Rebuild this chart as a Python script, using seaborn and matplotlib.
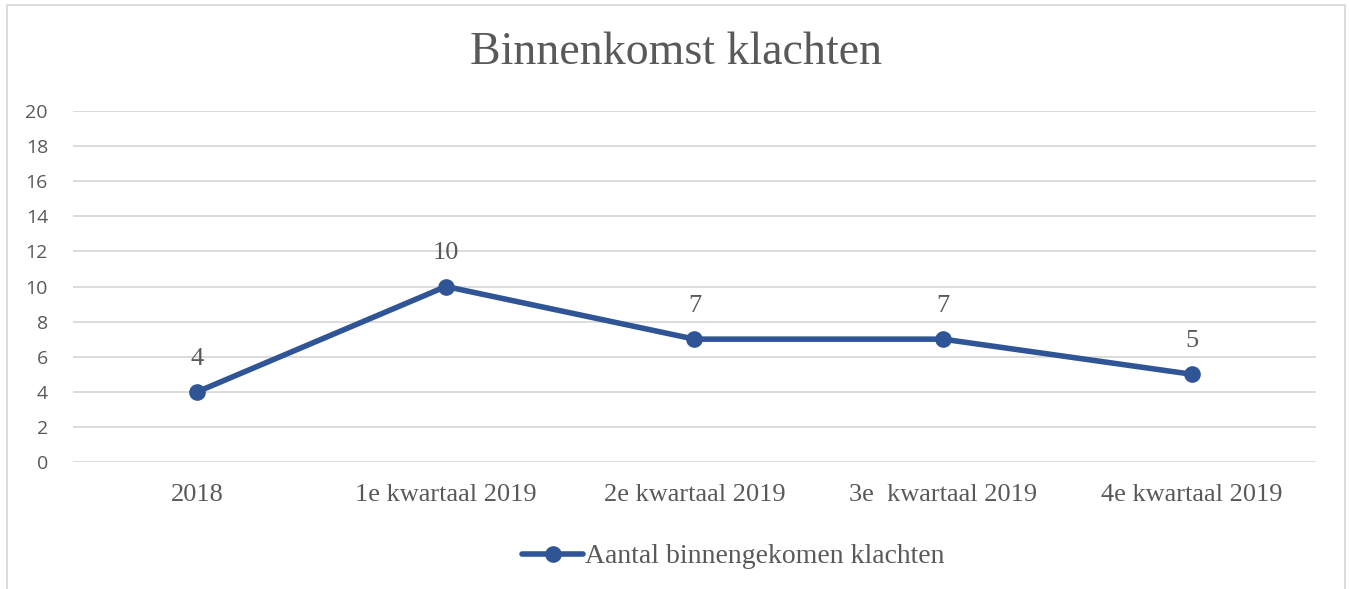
import pandas as pd
import matplotlib.pyplot as plt
import seaborn as sns
from matplotlib.patches import Rectangle

# data
categorieen = ['2018', '1e kwartaal 2019', '2e kwartaal 2019', '3e  kwartaal 2019', '4e kwartaal 2019']
klachten = [4, 10, 7, 7, 5]
reeks = 'Aantal binnengekomen klachten'
titel = 'Binnenkomst klachten'

df = pd.DataFrame({'periode': categorieen, 'aantal': klachten})

sns.set_style('white')
plt.rcParams['font.family'] = ['Liberation Serif', 'DejaVu Serif']

grijs = '#595959'
blauw = '#2F5597'

fig = plt.figure(figsize=(13.49, 5.89), dpi=100)
ax = fig.add_axes([73 / 1349, 1 - 462 / 589, (1316 - 73) / 1349, (462 - 111) / 589])

sns.lineplot(data=df, x='periode', y='aantal', ax=ax, color=blauw, linewidth=4,
             marker='o', markersize=12, markeredgewidth=0, label=reeks, sort=False)

for i, v in enumerate(klachten):
    ax.annotate(str(v), (i, v), xytext=(0, 16), textcoords='offset points',
                ha='center', va='bottom', fontsize=19, color=grijs)

ax.set_xlim(-0.5, len(categorieen) - 0.5)
ax.set_ylim(0, 20)
ax.set_yticks(range(0, 21, 2))
ax.grid(axis='y', color='#D9D9D9', linewidth=1.3)
ax.set_axisbelow(True)
for s in ax.spines.values():
    s.set_visible(False)
ax.set_xlabel('')
ax.set_ylabel('')
ax.tick_params(axis='x', length=0, pad=16, labelsize=19, colors=grijs)
ax.tick_params(axis='y', length=0, pad=18, labelsize=14, colors=grijs)
for lbl in ax.get_yticklabels():
    lbl.set_fontfamily(['Open Sans', 'DejaVu Sans'])

fig.text(676 / 1349, 1 - 53 / 589, titel, ha='center', va='center', fontsize=33, color=grijs)

leg = ax.legend(loc='center', bbox_to_anchor=(0.531, -0.27), frameon=False, fontsize=20,
                handlelength=2.2, handletextpad=0.05, labelcolor=grijs)

fig.patches.append(Rectangle((7 / 1349, -0.05), (1345 - 7) / 1349, 1.05 - 5 / 589,
                             transform=fig.transFigure, fill=False, edgecolor='#D9D9D9',
                             linewidth=1.3, clip_on=False))

fig.savefig('out.png', dpi=100)
